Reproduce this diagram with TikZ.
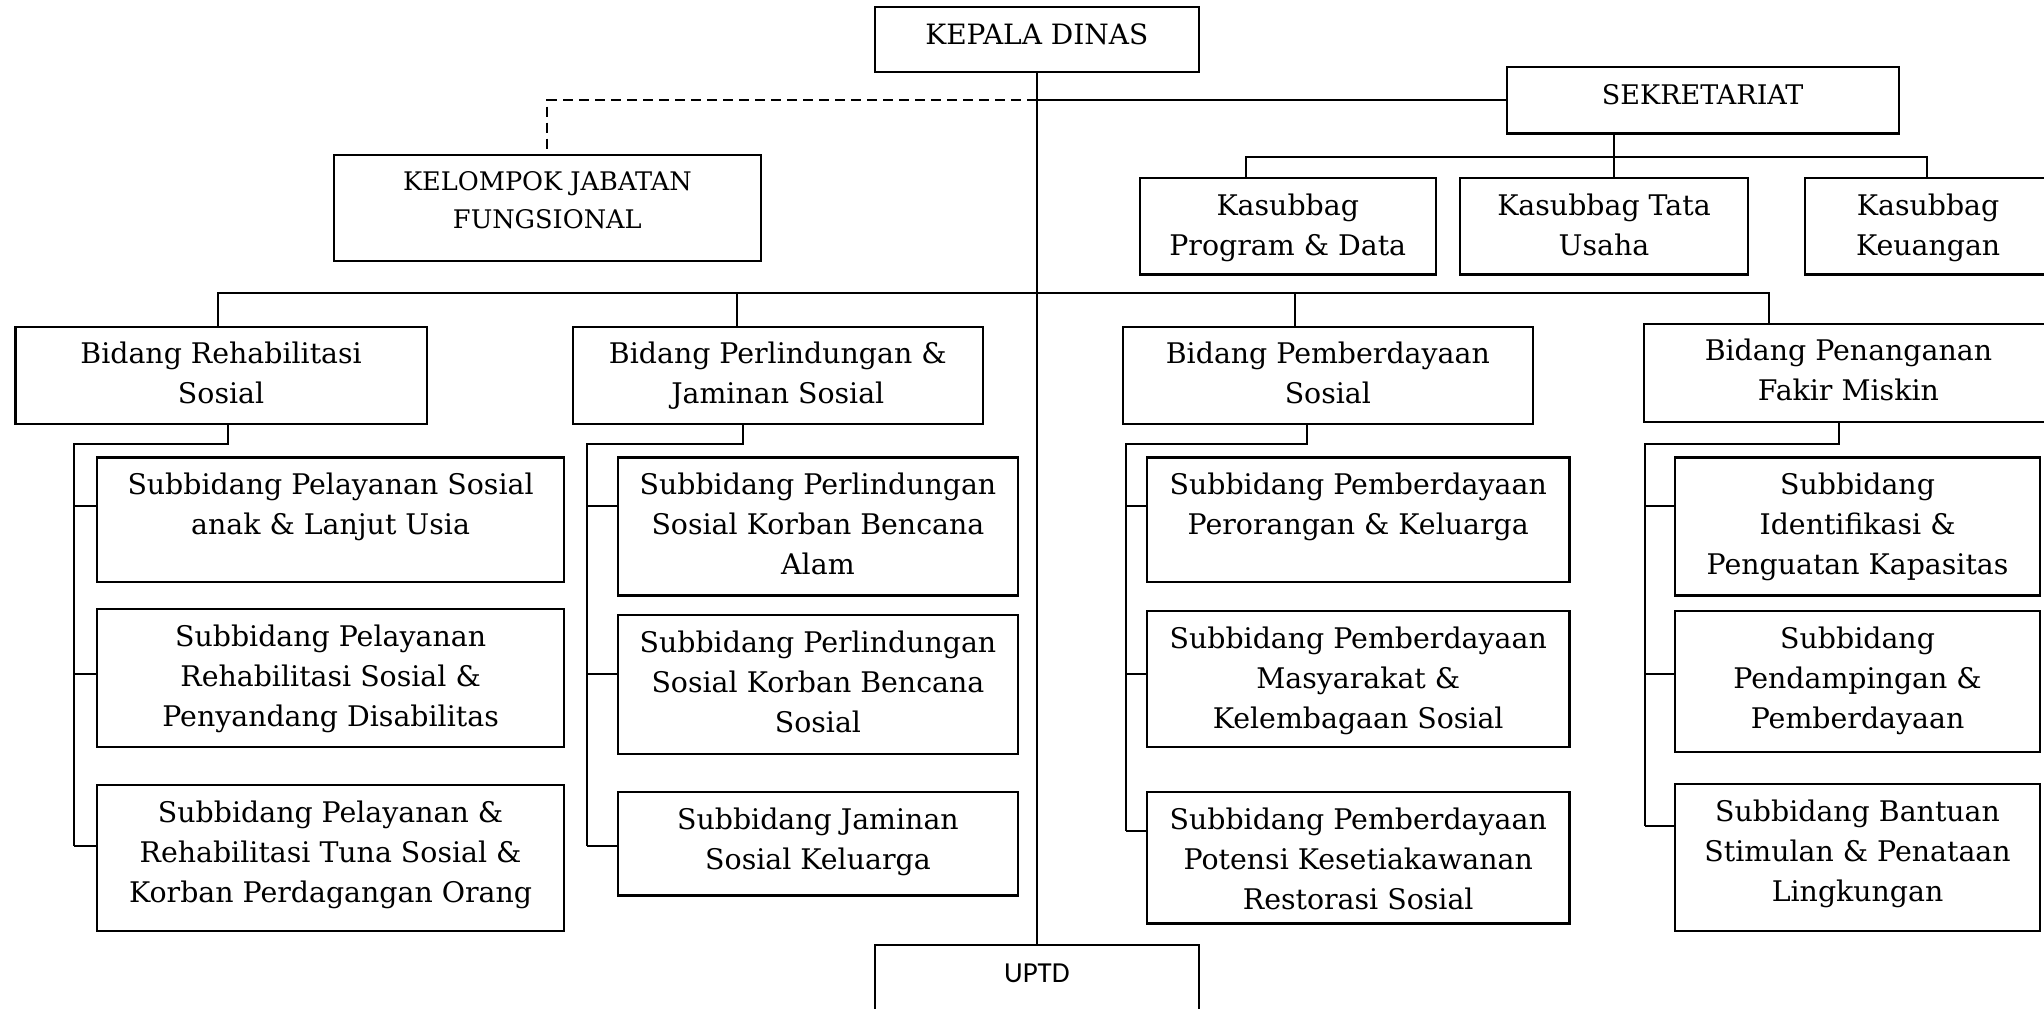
\documentclass[tikz,border=0pt]{standalone}
\usepackage{fontspec}
\setmainfont{DejaVu Serif}
\newfontfamily\uptdfont{Carlito}
\newcommand\boxfont{\fontsize{14.2pt}{20pt}\selectfont}
\newcommand\capfont{\fontsize{12.8pt}{19pt}\selectfont}
\tikzset{
  bx/.style={draw, line width=1.1pt, inner sep=0pt, anchor=north west},
  ln/.style={line width=1pt},
  dsh/.style={line width=1pt, dash pattern=on 5pt off 3pt},
}
% name, x1, y1, x2, y2, pad, text
\newcommand\obox[7]{%
  \node[bx] (#1) at (#2,#3) {\parbox[c][\dimexpr(#5pt-#3pt)/2\relax][t]{\dimexpr(#4pt-#2pt)/2\relax}{\boxfont\centering\vspace*{#6}\strut #7\par}};}
\begin{document}
\begin{tikzpicture}[x=0.5pt,y=-0.5pt]
\useasboundingbox (0,0) rectangle (2044,1008);
\obox{kd}{873.5}{5.7}{1198}{71}{5pt}{\fontsize{14pt}{20pt}\selectfont KEPALA DINAS}
\obox{sek}{1505.7}{65.7}{1897.5}{132.3}{5pt}{\fontsize{13.5pt}{20pt}\selectfont SEKRETARIAT}
\obox{kjf}{333}{154}{759.5}{260}{3.9pt}{\capfont KELOMPOK JABATAN\\FUNGSIONAL}
\obox{kpd}{1138.7}{176.7}{1434.6}{273.3}{5pt}{Kasubbag\\Program \& Data}
\obox{ktu}{1458.8}{176.7}{1747}{273.3}{5pt}{Kasubbag Tata\\Usaha}
\obox{kku}{1804}{176.7}{2050}{273.3}{5pt}{Kasubbag\\Keuangan}
\obox{br}{14.3}{326}{425.7}{423}{4.2pt}{Bidang Rehabilitasi\\Sosial}
\obox{bp}{571.7}{326}{981.7}{423}{4.2pt}{Bidang Perlindungan \&\\Jaminan Sosial}
\obox{bm}{1121.7}{326}{1531.8}{423}{4.2pt}{Bidang Pemberdayaan\\Sosial}
\obox{bn}{1642.6}{323}{2052}{421}{4.2pt}{Bidang Penanganan\\Fakir Miskin}
\obox{r1}{95.8}{456.4}{563.2}{581.2}{4.7pt}{Subbidang Pelayanan Sosial\\anak \& Lanjut Usia}
\obox{r2}{95.8}{607.5}{563.2}{746.2}{4.7pt}{Subbidang Pelayanan\\Rehabilitasi Sosial \&\\Penyandang Disabilitas}
\obox{r3}{95.8}{783.7}{563.2}{930}{4.7pt}{Subbidang Pelayanan \&\\Rehabilitasi Tuna Sosial \&\\Korban Perdagangan Orang}
\obox{p1}{616.7}{456.4}{1017}{594.4}{4.7pt}{Subbidang Perlindungan\\Sosial Korban Bencana\\Alam}
\obox{p2}{616.7}{614.2}{1017}{752.6}{4.7pt}{Subbidang Perlindungan\\Sosial Korban Bencana\\Sosial}
\obox{p3}{616.7}{790.5}{1017}{894.3}{4.7pt}{Subbidang Jaminan\\Sosial Keluarga}
\obox{e1}{1145.9}{456.4}{1568.3}{581.2}{4.7pt}{Subbidang Pemberdayaan\\Perorangan \& Keluarga}
\obox{e2}{1145.9}{609.7}{1568.3}{745.5}{4.7pt}{Subbidang Pemberdayaan\\Masyarakat \&\\Kelembagaan Sosial}
\obox{e3}{1145.9}{790.5}{1568.3}{922.4}{4.7pt}{Subbidang Pemberdayaan\\Potensi Kesetiakawanan\\Restorasi Sosial}
\obox{f1}{1673.9}{456.4}{2039}{594.4}{4.7pt}{Subbidang\\Identifikasi \&\\Penguatan Kapasitas}
\obox{f2}{1673.9}{609.7}{2039}{750.7}{4.7pt}{Subbidang\\Pendampingan \&\\Pemberdayaan}
\obox{f3}{1673.9}{783}{2039}{930}{4.7pt}{Subbidang Bantuan\\Stimulan \& Penataan\\Lingkungan}
\obox{uptd}{873.5}{943.8}{1198}{1030}{4.8pt}{\uptdfont\fontsize{14.5pt}{20pt}\selectfont UPTD}
% main spine
\draw[ln] (kd.south) -- (uptd.north);
\draw[ln] (sek.west) -- (sek.west -| kd.south);
\draw[dsh] (kd.south |- sek.west) -- (kjf.north |- sek.west) -- (kjf.north);
% sekretariat children
\coordinate (ks) at (1614,156.7);
\coordinate (kl) at (1245.6,156.7);
\coordinate (kr) at (1926.8,156.7);
\draw[ln] (sek.south -| ks) -- (ktu.north -| ks);
\draw[ln] (kl |- kpd.north) -- (kl) -- (kr) -- (kr |- kku.north);
% bidang bus
\coordinate (b1) at (218,293);
\coordinate (b2) at (736.6,293);
\coordinate (b3) at (1294.5,293);
\coordinate (b4) at (1769,293);
\draw[ln] (b1 |- br.north) -- (b1) -- (b4) -- (b4 |- bn.north);
\draw[ln] (b2) -- (b2 |- bp.north);
\draw[ln] (b3) -- (b3 |- bm.north);
% rehab branch
\coordinate (rd) at (227.5,444);
\coordinate (rs) at (73.7,444);
\coordinate (rc1) at (73.7,506.2);
\coordinate (rc2) at (73.7,674.2);
\coordinate (rc3) at (73.7,846.3);
\draw[ln] (rd |- br.south) -- (rd) -- (rs) -- (rc3);
\draw[ln] (rc1) -- (rc1 -| r1.west);
\draw[ln] (rc2) -- (rc2 -| r2.west);
\draw[ln] (rc3) -- (rc3 -| r3.west);
% perlindungan branch
\coordinate (pd) at (742.5,444);
\coordinate (ps) at (587.4,444);
\coordinate (pc1) at (587.4,506.2);
\coordinate (pc2) at (587.4,674.2);
\coordinate (pc3) at (587.4,846.3);
\draw[ln] (pd |- bp.south) -- (pd) -- (ps) -- (pc3);
\draw[ln] (pc1) -- (pc1 -| p1.west);
\draw[ln] (pc2) -- (pc2 -| p2.west);
\draw[ln] (pc3) -- (pc3 -| p3.west);
% pemberdayaan branch
\coordinate (ed) at (1306.9,444);
\coordinate (es) at (1126.3,444);
\coordinate (ec1) at (1126.3,506.2);
\coordinate (ec2) at (1126.3,674.2);
\coordinate (ec3) at (1126.3,830.6);
\draw[ln] (ed |- bm.south) -- (ed) -- (es) -- (ec3);
\draw[ln] (ec1) -- (ec1 -| e1.west);
\draw[ln] (ec2) -- (ec2 -| e2.west);
\draw[ln] (ec3) -- (ec3 -| e3.west);
% penanganan branch
\coordinate (fd) at (1838.8,444);
\coordinate (fs) at (1644.6,444);
\coordinate (fc1) at (1644.6,506.2);
\coordinate (fc2) at (1644.6,674.2);
\coordinate (fc3) at (1644.6,826);
\draw[ln] (fd |- bn.south) -- (fd) -- (fs) -- (fc3);
\draw[ln] (fc1) -- (fc1 -| f1.west);
\draw[ln] (fc2) -- (fc2 -| f2.west);
\draw[ln] (fc3) -- (fc3 -| f3.west);
\end{tikzpicture}
\end{document}
